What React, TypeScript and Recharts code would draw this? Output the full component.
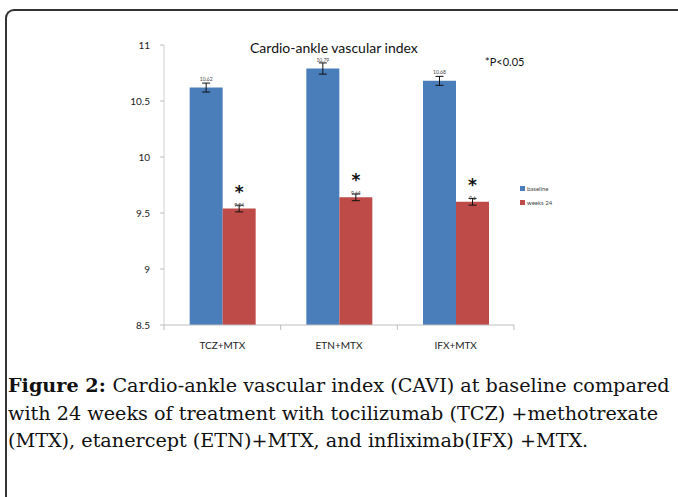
import { BarChart, Bar, XAxis, YAxis, ErrorBar, LabelList } from 'recharts'

const categories = ['TCZ+MTX', 'ETN+MTX', 'IFX+MTX']
const baseline = [10.62, 10.79, 10.68]
const weeks24 = [9.54, 9.64, 9.6]
const baselineErr = [0.04, 0.05, 0.04]
const weeks24Err = [0.03, 0.03, 0.03]
const significant = [true, true, true]
const yTicks = [8.5, 9, 9.5, 10, 10.5, 11]

const BLUE = '#4A7EBB'
const RED = '#BE4B48'
const FONT = 'Lato, "Open Sans", sans-serif'

const series = [
  { key: 'baseline', name: 'baseline', color: BLUE },
  { key: 'weeks24', name: 'weeks 24', color: RED },
]

const captionLines = [
  'Cardio-ankle vascular index (CAVI) at baseline compared',
  'with 24 weeks of treatment with tocilizumab (TCZ) +methotrexate',
  '(MTX), etanercept (ETN)+MTX, and infliximab(IFX) +MTX.',
]

const data = categories.map((name, i) => ({
  name,
  baseline: baseline[i],
  weeks24: weeks24[i],
  baselineErr: baselineErr[i],
  weeks24Err: weeks24Err[i],
  sig: significant[i],
}))

function CatTick(props: any) {
  const { x, y, payload, width, index } = props
  const half = width / (2 * categories.length)
  return (
    <g>
      <line x1={x - half} x2={x - half} y1={y - 8} y2={y - 3} stroke="#bdbdbd" />
      {index === categories.length - 1 && (
        <line x1={x + half} x2={x + half} y1={y - 8} y2={y - 3} stroke="#bdbdbd" />
      )}
      <text x={x} y={y + 16} textAnchor="middle" fontSize={10} fill="#222" fontFamily={FONT}>
        {payload.value}
      </text>
    </g>
  )
}

function ValueLabel(props: any) {
  const { x, y, width, value } = props
  return (
    <text x={x + width / 2} y={y - 7} textAnchor="middle" fontSize={5} fill="#444" fontFamily={FONT}>
      {value}
    </text>
  )
}

function RedLabel(props: any) {
  const { x, y, width, value, index } = props
  return (
    <g>
      {data[index].sig && (
        <text x={x + width / 2} y={y - 11} textAnchor="middle" fontSize={17} fontWeight="bold" fill="#111" fontFamily="DejaVu Sans, sans-serif">
          *
        </text>
      )}
      <text x={x + width / 2} y={y - 2} textAnchor="middle" fontSize={5} fill="#444" fontFamily={FONT}>
        {value}
      </text>
    </g>
  )
}

export default function App() {
  return (
    <div style={{ position: 'absolute', left: 0, top: 0, width: 678, height: 497, background: '#fff', overflow: 'hidden' }}>
      <div
        style={{
          position: 'absolute',
          left: 5,
          top: 9,
          width: 700,
          height: 520,
          borderTop: '2px solid #333',
          borderLeft: '2px solid #333',
          borderTopLeftRadius: 9,
        }}
      />
      <div style={{ position: 'absolute', left: 0, top: 0 }}>
        <BarChart
          width={678}
          height={360}
          data={data}
          margin={{ top: 45, right: 164, left: 124, bottom: 0 }}
          barGap={0}
          barCategoryGap="22%"
        >
          <YAxis
            domain={[8.5, 11]}
            ticks={yTicks}
            width={40}
            tickSize={4}
            tickMargin={10}
            axisLine={{ stroke: '#d0d0d0' }}
            tickLine={{ stroke: '#bdbdbd' }}
            tick={{ fontSize: 10, fill: '#222', fontFamily: FONT }}
            interval={0}
          />
          <XAxis
            dataKey="name"
            height={35}
            axisLine={{ stroke: '#bdbdbd' }}
            tickLine={false}
            tick={<CatTick />}
            interval={0}
          />
          <Bar dataKey="baseline" name="baseline" fill={BLUE} isAnimationActive={false}>
            <ErrorBar dataKey="baselineErr" width={4} stroke="#111" strokeWidth={1} direction="y" />
            <LabelList dataKey="baseline" content={<ValueLabel />} />
          </Bar>
          <Bar dataKey="weeks24" name="weeks 24" fill={RED} isAnimationActive={false}>
            <ErrorBar dataKey="weeks24Err" width={4} stroke="#111" strokeWidth={1} direction="y" />
            <LabelList dataKey="weeks24" content={<RedLabel />} />
          </Bar>
        </BarChart>
      </div>
      <div style={{ position: 'absolute', left: 520, top: 181, fontSize: 6, fontFamily: FONT, color: '#444' }}>
        {series.map((s) => (
          <div key={s.key} style={{ display: 'flex', alignItems: 'center', height: 14 }}>
            <span style={{ display: 'inline-block', width: 5, height: 5, background: s.color, marginRight: 2 }} />
            {s.name}
          </div>
        ))}
      </div>
      <div
        style={{
          position: 'absolute',
          left: 250,
          top: 40,
          fontSize: 14,
          lineHeight: '16px',
          fontFamily: FONT,
          color: '#111',
        }}
      >
        Cardio-ankle vascular index
      </div>
      <div style={{ position: 'absolute', left: 485, top: 55, fontSize: 11, fontFamily: FONT, color: '#111' }}>
        *P&lt;0.05
      </div>
      <div
        style={{
          position: 'absolute',
          left: 8,
          top: 372,
          fontSize: 19.2,
          lineHeight: '27.5px',
          fontFamily: '"DejaVu Serif", serif',
          color: '#111',
          whiteSpace: 'nowrap',
        }}
      >
        {captionLines.map((line, i) => (
          <div key={i}>
            {i === 0 && <b>Figure 2: </b>}
            {line}
          </div>
        ))}
      </div>
    </div>
  )
}
